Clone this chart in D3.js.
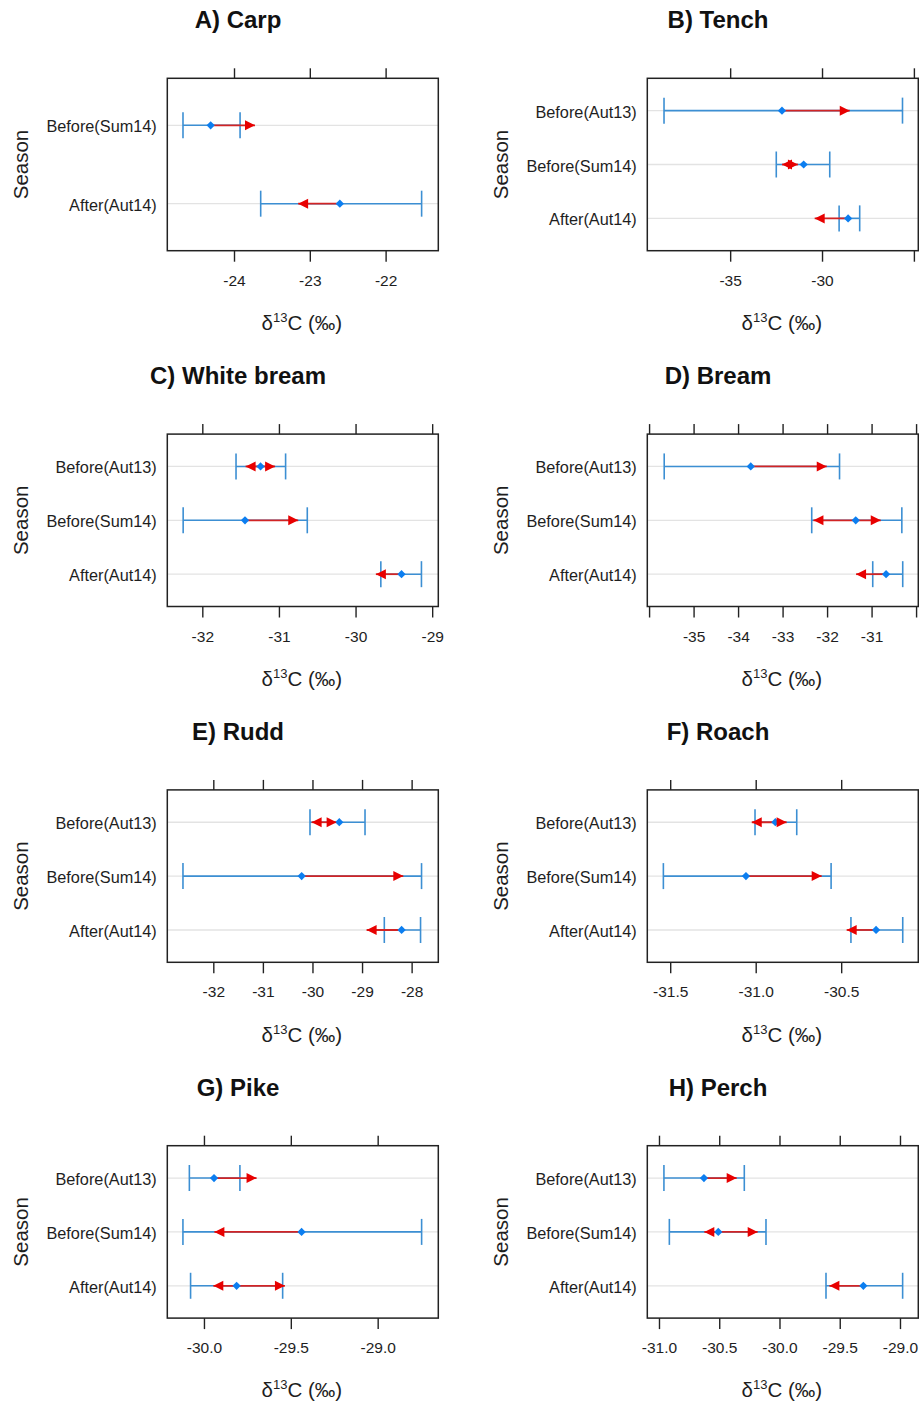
<!DOCTYPE html>
<html><head><meta charset="utf-8">
<script src="https://cdn.jsdelivr.net/npm/d3@7"></script>
<style>
body{margin:0;background:#fff;}
svg{display:block;font-family:"Liberation Sans",Arial,sans-serif;}
</style>
</head><body>
<svg id="c" width="919" height="1405"></svg>
<script>
// ---------- data ----------
const panelTitles = ["A) Carp","B) Tench","C) White bream","D) Bream","E) Rudd","F) Roach","G) Pike","H) Perch"];
const seasonLabels = [
  ["Before(Sum14)","After(Aut14)"],
  ["Before(Aut13)","Before(Sum14)","After(Aut14)"],
  ["Before(Aut13)","Before(Sum14)","After(Aut14)"],
  ["Before(Aut13)","Before(Sum14)","After(Aut14)"],
  ["Before(Aut13)","Before(Sum14)","After(Aut14)"],
  ["Before(Aut13)","Before(Sum14)","After(Aut14)"],
  ["Before(Aut13)","Before(Sum14)","After(Aut14)"],
  ["Before(Aut13)","Before(Sum14)","After(Aut14)"]
];
const xDomains = [[-24.88,-21.305],[-39.51,-24.76],[-32.457,-28.92],[-36.04,-29.95],
                  [-32.928,-27.462],[-31.634,-30.049],[-30.211,-28.651],[-31.097,-28.848]];
const tickValues = [[-24,-23,-22],[-35,-30,-25],[-32,-31,-30,-29],[-36,-35,-34,-33,-32,-31,-30],
                    [-32,-31,-30,-29,-28],[-31.5,-31,-30.5],[-30,-29.5,-29],[-31,-30.5,-30,-29.5,-29]];
const tickLabels = [["-24","-23","-22"],["-35","-30",""],["-32","-31","-30","-29"],
                    ["","-35","-34","-33","-32","-31",""],["-32","-31","-30","-29","-28"],
                    ["-31.5","-31.0","-30.5"],["-30.0","-29.5","-29.0"],["-31.0","-30.5","-30.0","-29.5","-29.0"]];
const means = [[-24.308,-22.604],[-32.18,-31.0,-28.58],[-31.24,-31.443,-29.4],[-33.715,-31.356,-30.674],
               [-29.459,-30.218,-28.202],[-30.885,-31.057,-30.296],[-29.942,-29.438,-29.812],[-30.627,-30.508,-29.304]];
const lowers = [[-24.673,-23.648],[-38.6,-32.49,-29.07],[-31.56,-32.25,-29.67],[-35.66,-32.345,-30.974],
                [-30.05,-32.612,-28.551],[-31.004,-31.54,-30.443],[-30.084,-30.121,-30.077],[-30.959,-30.914,-29.614]];
const uppers = [[-23.92,-21.525],[-25.62,-29.58,-27.95],[-30.913,-30.63,-29.14],[-31.72,-30.32,-30.30],
                [-28.94,-27.80,-27.82],[-30.76,-30.559,-30.14],[-29.793,-28.747,-29.547],[-30.292,-30.112,-28.978]];
const arrowFrom = [[-24.308,-22.604],[-32.18,-32.18,-28.58],[-31.435,-31.443,-29.4],[-33.715,-32.307,-30.674],
                   [-30.017,-30.218,-28.202],[-31.023,-31.057,-30.296],[-29.942,-29.438,-29.946],[-30.627,-30.624,-29.304]];
const arrowTo = [[-23.723,-23.154],[-28.49,-31.31,-30.4],[-31.05,-30.748,-29.735],[-32.007,-30.794,-31.348],
                 [-29.513,-28.168,-28.908],[-30.819,-30.614,-30.468],[-29.697,-29.94,-29.534],[-30.355,-30.181,-29.586]];
const bothHeads = [[0,0],[0,1,0],[1,0,0],[0,1,0],[1,0,0],[1,0,0],[0,0,1],[0,1,0]];

// ---------- drawing ----------
const svg = d3.select("#c");
const colX = [0,480], boxTop0 = 78.3, rowStep = 355.8, boxH = 172.4, boxLeftOff = 167.3, boxW = 271;
const txt = "#1e1e1e", errCol = "#3c8fd3", ptCol = "#0c7ef0", lineRed = "#d22424", headRed = "#e80000";

function head(xt, yc, dir){
  const L = 10, H = 5;
  return `M${xt},${yc}L${xt - dir*L},${yc-H}L${xt - dir*L},${yc+H}Z`;
}

panelTitles.forEach((title,p)=>{
  const cx = colX[p%2];
  const top = boxTop0 + Math.floor(p/2)*rowStep, bottom = top + boxH;
  const left = cx + boxLeftOff;
  const n = seasonLabels[p].length;
  const x = d3.scaleLinear().domain(xDomains[p]).range([left, left+boxW]);
  const y = d3.scaleLinear().domain([0.4, n+0.6]).range([top, bottom]);
  const rows = d3.range(n);
  const g = svg.append("g");

  // title
  g.append("text").attr("x", cx+238).attr("y", top-50).attr("text-anchor","middle")
    .attr("font-size",24).attr("font-weight","bold").attr("fill","#111").text(title);

  // grid lines
  g.selectAll("line.grid").data(rows).join("line").attr("class","grid")
    .attr("x1",left).attr("x2",left+boxW)
    .attr("y1",i=>y(i+1)).attr("y2",i=>y(i+1))
    .attr("stroke","#e3e3e3").attr("stroke-width",1.3);

  // axes
  const fmt = (d,i)=>tickLabels[p][i];
  const axT = g.append("g").attr("transform",`translate(0,${top})`)
    .call(d3.axisTop(x).tickValues(tickValues[p]).tickFormat("").tickSize(10).tickSizeOuter(0));
  const axB = g.append("g").attr("transform",`translate(0,${bottom})`)
    .call(d3.axisBottom(x).tickValues(tickValues[p]).tickFormat(fmt).tickSize(11).tickSizeOuter(0).tickPadding(13));
  const axL = g.append("g").attr("transform",`translate(${left},0)`)
    .call(d3.axisLeft(y).tickValues(rows.map(i=>i+1)).tickFormat(d=>seasonLabels[p][d-1]).tickSize(0).tickPadding(10.5));
  [axT,axB,axL].forEach(a=>{
    a.select(".domain").remove();
    a.selectAll(".tick line").attr("stroke","#222").attr("stroke-width",1.4);
    a.selectAll("text").attr("fill",txt).attr("font-family",'"Liberation Sans",Arial,sans-serif');
  });
  axB.selectAll("text").attr("font-size",15.5);
  axL.selectAll("text").attr("font-size",16.3).attr("dy","0.4em");

  // error bars
  g.selectAll("line.err").data(rows).join("line").attr("class","err")
    .attr("x1",i=>x(lowers[p][i])).attr("x2",i=>x(uppers[p][i]))
    .attr("y1",i=>y(i+1)).attr("y2",i=>y(i+1))
    .attr("stroke",errCol).attr("stroke-width",1.6);
  ["lo","hi"].forEach(k=>{
    const arr = k==="lo" ? lowers[p] : uppers[p];
    g.selectAll("line.cap"+k).data(rows).join("line").attr("class","cap"+k)
      .attr("x1",i=>x(arr[i])).attr("x2",i=>x(arr[i]))
      .attr("y1",i=>y(i+1)-13).attr("y2",i=>y(i+1)+13)
      .attr("stroke",errCol).attr("stroke-width",1.6);
  });

  // arrow shafts
  g.selectAll("line.shaft").data(rows).join("line").attr("class","shaft")
    .attr("x1",i=>x(arrowFrom[p][i])).attr("x2",i=>x(arrowTo[p][i]))
    .attr("y1",i=>y(i+1)).attr("y2",i=>y(i+1))
    .attr("stroke",lineRed).attr("stroke-width",1.8);

  // mean points
  g.selectAll("path.pt").data(rows).join("path").attr("class","pt")
    .attr("d", d3.symbol(d3.symbolSquare, 34)())
    .attr("transform",i=>`translate(${x(means[p][i])},${y(i+1)}) rotate(45)`)
    .attr("fill",ptCol);

  // arrow heads
  rows.forEach(i=>{
    const x0 = x(arrowFrom[p][i]), x1 = x(arrowTo[p][i]), yc = y(i+1);
    const dir = Math.sign(x1-x0) || 1;
    g.append("path").attr("d", head(x1, yc, dir)).attr("fill",headRed);
    if (bothHeads[p][i]) g.append("path").attr("d", head(x0, yc, -dir)).attr("fill",headRed);
  });

  // box
  g.append("rect").attr("x",left).attr("y",top).attr("width",boxW).attr("height",boxH)
    .attr("fill","none").attr("stroke","#222").attr("stroke-width",1.5);

  // y title
  g.append("text").attr("transform",`translate(${cx+28},${(top+bottom)/2}) rotate(-90)`)
    .attr("text-anchor","middle").attr("font-size",20.5).attr("fill",txt).text("Season");

  // x title
  const xt = g.append("text").attr("x", left+boxW/2 - 1).attr("y", bottom+79.3)
    .attr("text-anchor","middle").attr("font-size",20.5).attr("fill",txt);
  xt.append("tspan").text("δ");
  xt.append("tspan").attr("font-size",13).attr("dy",-8).text("13");
  xt.append("tspan").attr("dy",8).text("C (‰)");
});
</script>
</body></html>
